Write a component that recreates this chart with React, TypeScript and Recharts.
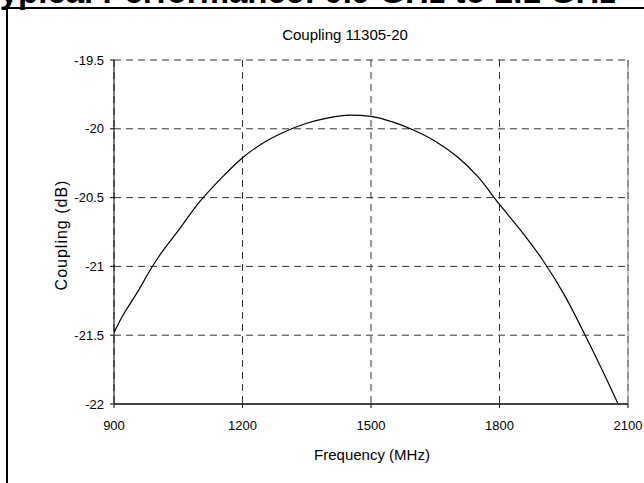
import {
  LineChart,
  Line,
  XAxis,
  YAxis,
  CartesianGrid,
  ReferenceLine,
} from "recharts";

// frequency (MHz) and coupling (dB)
const freqs = [
  900, 920, 940, 960, 980, 1000, 1050, 1100, 1150, 1200, 1250, 1300, 1350,
  1400, 1450, 1500, 1550, 1600, 1650, 1700, 1750, 1800, 1850, 1900, 1950,
  2000, 2050, 2080, 2100,
];
const coupling = [
  -21.48, -21.36, -21.26, -21.16, -21.05, -20.95, -20.74, -20.53, -20.36,
  -20.21, -20.1, -20.02, -19.96, -19.92, -19.9, -19.91, -19.95, -20.01,
  -20.09, -20.2, -20.35, -20.55, -20.74, -20.95, -21.2, -21.5, -21.82, -22.02,
  -22.15,
];
const xTicks = [900, 1200, 1500, 1800, 2100];
const yTicks = [-22, -21.5, -21, -20.5, -20, -19.5];

const data = freqs.map((f, i) => ({ freq: f, coupling: coupling[i] }));

const font = "'Liberation Sans', Arial, sans-serif";
const tickStyle = { fontSize: 13, fill: "#000", fontFamily: font };

export default function App() {
  return (
    <div
      style={{
        position: "absolute",
        left: 0,
        top: 0,
        width: 644,
        height: 483,
        overflow: "hidden",
        background: "#fff",
        fontFamily: font,
        color: "#000",
      }}
    >
      {/* page heading, cut off by the top edge */}
      <div
        style={{
          position: "absolute",
          left: -18,
          top: -26,
          fontSize: 33,
          fontWeight: "bold",
          lineHeight: "36px",
          whiteSpace: "nowrap",
        }}
      >
        Typical Performance: 0.9 GHz to 2.1 GHz
      </div>
      <div
        style={{
          position: "absolute",
          left: 6,
          top: 7,
          width: 700,
          height: 600,
          borderTop: "2px solid #000",
          borderLeft: "2px solid #000",
        }}
      />
      <div style={{ position: "absolute", left: 0, top: 0 }}>
        <LineChart
          width={644}
          height={483}
          data={data}
          margin={{ top: 60, right: 16, bottom: 49, left: 0 }}
        >
          <CartesianGrid stroke="#333" strokeDasharray="7 5" />
          <XAxis
            dataKey="freq"
            type="number"
            domain={[900, 2100]}
            ticks={xTicks}
            allowDataOverflow
            height={30}
            tickSize={4}
            tickMargin={13}
            tick={tickStyle}
            axisLine={{ stroke: "#444", strokeWidth: 2 }}
            tickLine={{ stroke: "#000" }}
          />
          <YAxis
            type="number"
            domain={[-22, -19.5]}
            ticks={yTicks}
            allowDataOverflow
            width={114}
            tickSize={4}
            tickMargin={6}
            tick={tickStyle}
            axisLine={{ stroke: "#000" }}
            tickLine={{ stroke: "#000" }}
          />
          <ReferenceLine x={2100} stroke="#888" />
          <Line
            type="monotone"
            dataKey="coupling"
            stroke="#000"
            strokeWidth={1.2}
            dot={false}
            isAnimationActive={false}
          />
        </LineChart>
      </div>
      <div
        style={{
          position: "absolute",
          left: 245,
          top: 26,
          width: 200,
          textAlign: "center",
          fontSize: 15,
          lineHeight: "18px",
        }}
      >
        Coupling 11305-20
      </div>
      <div
        style={{
          position: "absolute",
          left: 272,
          top: 446,
          width: 200,
          textAlign: "center",
          fontSize: 15,
          lineHeight: "18px",
        }}
      >
        Frequency (MHz)
      </div>
      <div
        style={{
          position: "absolute",
          left: -38,
          top: 225,
          width: 200,
          textAlign: "center",
          fontSize: 16,
          lineHeight: "20px",
          letterSpacing: 1,
          transform: "rotate(-90deg)",
        }}
      >
        Coupling (dB)
      </div>
    </div>
  );
}
